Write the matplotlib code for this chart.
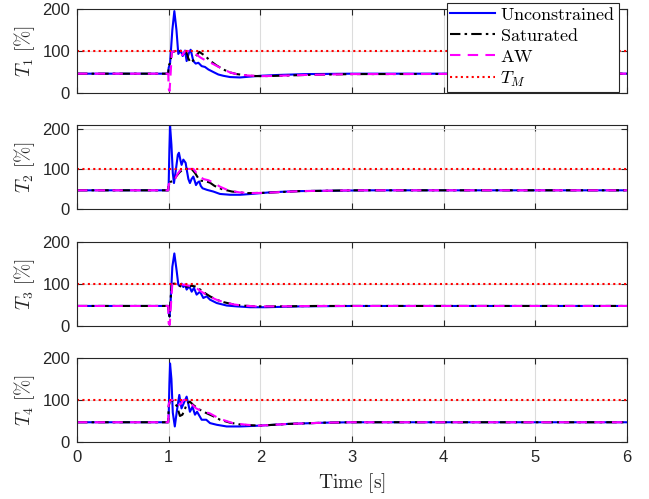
import matplotlib
matplotlib.use("Agg")
import matplotlib.pyplot as plt

plt.rcParams['mathtext.fontset'] = 'cm'
plt.rcParams['font.family'] = ['Liberation Sans', 'DejaVu Sans']

# ---------------- data ----------------
t_max = 6.0
T_M = 100.0

# Thruster 1
t1_unc = [0, 0.995, 1.0, 1.015, 1.04, 1.062, 1.085, 1.105, 1.131, 1.153, 1.178, 1.196, 1.22, 1.24, 1.269, 1.295, 1.324, 1.36, 1.396, 1.433, 1.487, 1.542, 1.596, 1.669, 1.778, 1.887, 2.0, 2.2, 2.5, 3.0, 6.0]
T1_unc = [46, 46, 60, 70, 150, 195, 150, 93, 101, 88, 101, 76, 95, 103, 76, 70, 72, 64, 62, 56, 50, 44, 41, 38, 37, 39, 41, 43, 45, 46, 46]
t1_sat = [0, 0.995, 1.0, 1.02, 1.035, 1.1, 1.15, 1.19, 1.215, 1.24, 1.27, 1.3, 1.334, 1.4, 1.451, 1.52, 1.596, 1.67, 1.742, 1.887, 2.0, 2.2, 2.5, 3.0, 6.0]
T1_sat = [46, 46, 64, 75, 98, 100, 100, 99, 82, 72, 78, 88, 98, 88, 77, 66, 56, 49, 45, 41, 40, 41, 43, 45, 46]
t1_aw = [0, 0.995, 1.0, 1.01, 1.02, 1.035, 1.08, 1.12, 1.15, 1.18, 1.21, 1.25, 1.3, 1.35, 1.4, 1.45, 1.52, 1.6, 1.67, 1.74, 1.85, 2.0, 2.2, 2.5, 3.0, 6.0]
T1_aw = [46, 46, 10, 5, 40, 98, 100, 100, 90, 100, 100, 99, 92, 84, 78, 73, 65, 56, 49, 45, 42, 40, 41, 43, 45, 46]

# Thruster 2
t2_unc = [0, 0.995, 1.0, 1.008, 1.015, 1.03, 1.045, 1.058, 1.08, 1.1, 1.112, 1.13, 1.141, 1.16, 1.185, 1.2, 1.215, 1.232, 1.25, 1.269, 1.285, 1.298, 1.315, 1.334, 1.35, 1.37, 1.42, 1.487, 1.56, 1.669, 1.78, 1.9, 2.105, 2.4, 2.8, 3.2, 6.0]
T2_unc = [47, 47, 60, 150, 208, 160, 90, 65, 100, 135, 140, 120, 110, 123, 115, 94, 75, 65, 75, 81, 70, 60, 66, 69, 58, 52, 48, 44, 38, 36, 36, 38, 42, 45, 46, 47, 47]
t2_sat = [0, 0.995, 1.0, 1.02, 1.05, 1.087, 1.12, 1.142, 1.17, 1.196, 1.25, 1.287, 1.32, 1.342, 1.396, 1.45, 1.5, 1.58, 1.69, 1.85, 2.07, 2.43, 3.0, 6.0]
T2_sat = [47, 47, 62, 68, 70, 83, 92, 96, 100, 100, 100, 90, 78, 71, 70, 66, 58, 50, 44, 40, 41, 45, 47, 47]
t2_aw = [0, 0.995, 1.0, 1.03, 1.06, 1.09, 1.12, 1.15, 1.2, 1.27, 1.31, 1.378, 1.433, 1.49, 1.56, 1.65, 1.77, 1.9, 2.07, 2.43, 3.0, 6.0]
T2_aw = [47, 47, 62, 66, 70, 85, 95, 99, 100, 100, 88, 75, 72, 66, 56, 47, 42, 40, 41, 45, 47, 47]

# Thruster 3
t3_unc = [0, 0.995, 1.0, 1.01, 1.022, 1.04, 1.062, 1.087, 1.105, 1.123, 1.142, 1.16, 1.178, 1.196, 1.225, 1.251, 1.276, 1.305, 1.342, 1.378, 1.415, 1.451, 1.524, 1.633, 1.742, 1.887, 2.069, 2.432, 3.0, 6.0]
T3_unc = [47, 47, 30, 22, 60, 140, 172, 131, 98, 94, 100, 92, 98, 86, 94, 81, 90, 74, 81, 66, 70, 62, 54, 48, 46, 44, 44, 46, 47, 47]
t3_sat = [0, 0.995, 1.0, 1.01, 1.02, 1.033, 1.05, 1.09, 1.12, 1.15, 1.2, 1.25, 1.3, 1.35, 1.4, 1.45, 1.52, 1.6, 1.7, 1.8, 1.95, 2.2, 2.6, 3.0, 6.0]
T3_sat = [47, 47, 30, 22, 60, 98, 100, 100, 95, 92, 93, 95, 93, 85, 77, 70, 62, 56, 51, 48, 46, 46, 47, 47, 47]
t3_aw = [0, 0.995, 1.0, 1.012, 1.025, 1.04, 1.1, 1.15, 1.2, 1.25, 1.3, 1.35, 1.4, 1.45, 1.52, 1.6, 1.7, 1.8, 1.95, 2.2, 2.6, 3.0, 6.0]
T3_aw = [47, 47, 5, 2, 50, 100, 100, 98, 96, 94, 90, 82, 75, 69, 62, 56, 51, 48, 46, 46, 47, 47, 47]

# Thruster 4
t4_unc = [0, 0.995, 1.0, 1.008, 1.015, 1.03, 1.045, 1.067, 1.09, 1.116, 1.14, 1.17, 1.196, 1.215, 1.232, 1.26, 1.287, 1.31, 1.36, 1.41, 1.451, 1.524, 1.633, 1.778, 1.996, 2.3, 2.7, 3.0, 6.0]
T4_unc = [47, 47, 60, 140, 187, 150, 70, 37, 75, 112, 80, 95, 108, 90, 72, 84, 65, 72, 53, 53, 45, 41, 37, 37, 39, 43, 46, 47, 47]
t4_sat = [0, 0.995, 1.0, 1.015, 1.033, 1.06, 1.09, 1.123, 1.15, 1.18, 1.2, 1.232, 1.269, 1.33, 1.4, 1.45, 1.52, 1.56, 1.669, 1.8, 1.996, 2.3, 2.7, 3.0, 6.0]
T4_sat = [47, 47, 85, 98, 100, 95, 85, 62, 65, 80, 92, 96, 88, 78, 70, 65, 58, 53, 46, 41, 39, 43, 46, 47, 47]
t4_aw = [0, 0.995, 1.0, 1.02, 1.04, 1.067, 1.1, 1.13, 1.16, 1.2, 1.25, 1.3, 1.35, 1.45, 1.56, 1.7, 1.85, 2.0, 2.3, 2.7, 3.0, 6.0]
T4_aw = [47, 47, 90, 100, 100, 90, 88, 90, 100, 100, 90, 80, 75, 68, 55, 45, 41, 39, 43, 46, 47, 47]

ylims_top = [200, 208, 200, 200]
ylabels = [r'$T_1\ [\%]$', r'$T_2\ [\%]$', r'$T_3\ [\%]$', r'$T_4\ [\%]$']
xticks = [0, 1, 2, 3, 4, 5, 6]
yticks = [0, 100, 200]
legend_labels = [r'$\mathrm{Unconstrained}$', r'$\mathrm{Saturated}$', r'$\mathrm{AW}$', r'$T_M$']

series = [
    (t1_unc, T1_unc, t1_sat, T1_sat, t1_aw, T1_aw),
    (t2_unc, T2_unc, t2_sat, T2_sat, t2_aw, T2_aw),
    (t3_unc, T3_unc, t3_sat, T3_sat, t3_aw, T3_aw),
    (t4_unc, T4_unc, t4_sat, T4_sat, t4_aw, T4_aw),
]

# ---------------- figure ----------------
W, H = 649, 499
fig = plt.figure(figsize=(W / 100, H / 100), dpi=100)
left, right = 77 / W, 627 / W
bottoms_px = [93, 209.3, 325.7, 442]
height_px = 84
axc = '#262626'

handles = None
for i, (tu, vu, ts, vs, ta, va) in enumerate(series):
    b = bottoms_px[i]
    ax = fig.add_axes([left, 1 - b / H, right - left, height_px / H])
    h1, = ax.plot(tu, vu, '-', color='#0000FF', lw=1.5)
    h2, = ax.plot(ts, vs, '-.', color='#000000', lw=1.5, dashes=(5, 2, 1.2, 2))
    h3, = ax.plot(ta, va, '--', color='#FF00FF', lw=1.5, dashes=(5, 3.5))
    h4, = ax.plot([0, t_max], [T_M, T_M], ':', color='#FF0000', lw=1.5, dashes=(1, 1.6))
    if handles is None:
        handles = [h1, h2, h3, h4]
    ax.set_xlim(0, t_max)
    ax.set_ylim(0, ylims_top[i])
    ax.set_xticks(xticks)
    ax.set_yticks(yticks)
    ax.grid(True, color='#dcdcdc', lw=0.8)
    ax.set_axisbelow(True)
    for s in ax.spines.values():
        s.set_color(axc)
        s.set_linewidth(0.8)
    ax.tick_params(direction='in', length=4, width=0.8, colors=axc,
                   top=True, right=True, labelsize=12, labelcolor=axc)
    ax.tick_params(axis='y', pad=5)
    ax.tick_params(axis='x', pad=6)
    if i < 3:
        ax.tick_params(labelbottom=False)
    else:
        ax.set_xticklabels([str(x) for x in xticks])
        ax.set_xlabel(r'$\mathrm{Time\ [s]}$', fontsize=14, color=axc, labelpad=4)
    ax.set_ylabel(ylabels[i], fontsize=14, color=axc, labelpad=4)

leg = fig.legend(handles, legend_labels, loc='upper right',
                 bbox_to_anchor=(619 / W, 1 - 3 / H), bbox_transform=fig.transFigure,
                 fontsize=13, frameon=True, fancybox=False, framealpha=1,
                 edgecolor=axc, handlelength=2.45, handletextpad=0.3,
                 labelspacing=0.22, borderpad=0.2, borderaxespad=0)
leg.get_frame().set_linewidth(0.8)

fig.savefig('out.png', dpi=100)
